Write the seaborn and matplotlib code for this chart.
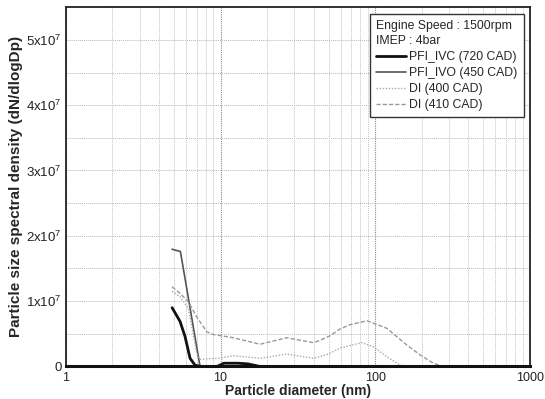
import numpy as np
import pandas as pd
import matplotlib
matplotlib.use("Agg")
import matplotlib.pyplot as plt
import seaborn as sns
from matplotlib.ticker import FixedLocator, FuncFormatter, NullFormatter

# ---- data ----
ivc_x = [4.86, 5.47, 5.89, 6.35, 6.84, 7.5, 9.5, 10.5, 13.0, 15.0, 18.0, 300]
ivc_y = [0.90e7, 0.69e7, 0.46e7, 0.125e7, 0.02e7, 0.0, 0.0, 0.05e7, 0.05e7, 0.04e7, 0.0, 0.0]

ivo_x = [4.86, 5.5, 7.37, 300]
ivo_y = [1.795e7, 1.76e7, 0.0, 0.0]

di400_x = [4.86, 5.47, 6.19, 7.01, 7.37, 8.5, 10.0, 12.1, 18.0, 26.8, 39.9, 49.9, 59.3, 82.0, 97.5, 119, 145, 160, 300]
di400_y = [1.15e7, 1.07e7, 0.89e7, 0.20e7, 0.11e7, 0.12e7, 0.13e7, 0.165e7, 0.125e7, 0.19e7, 0.125e7, 0.19e7,
           0.28e7, 0.365e7, 0.30e7, 0.15e7, 0.02e7, 0.0, 0.0]

di410_x = [4.86, 5.47, 6.19, 7.01, 8.15, 8.98, 12.1, 18.0, 26.8, 39.9, 44.0, 51.0, 59.3, 68.9, 88.4, 119, 160, 196, 238, 275, 300]
di410_y = [1.22e7, 1.12e7, 0.99e7, 0.76e7, 0.53e7, 0.49e7, 0.44e7, 0.34e7, 0.44e7, 0.365e7, 0.40e7, 0.47e7,
           0.575e7, 0.64e7, 0.70e7, 0.585e7, 0.33e7, 0.175e7, 0.05e7, 0.0, 0.0]

labels = ["PFI_IVC (720 CAD)", "PFI_IVO (450 CAD)", "DI (400 CAD)", "DI (410 CAD)"]
ytick_vals = [0, 1e7, 2e7, 3e7, 4e7, 5e7]
ytick_labels = ["0", "1x10$^7$", "2x10$^7$", "3x10$^7$", "4x10$^7$", "5x10$^7$"]
xtick_vals = [1, 10, 100, 1000]
xtick_labels = ["1", "10", "100", "1000"]

sns.set_theme(style="white")
plt.rcParams["font.family"] = ["Liberation Sans", "DejaVu Sans"]
plt.rcParams["mathtext.fontset"] = "custom"
plt.rcParams["mathtext.rm"] = "Liberation Sans"
plt.rcParams["mathtext.it"] = "Liberation Sans"

fig = plt.figure(figsize=(5.45, 3.99), dpi=100)
ax = fig.add_axes([0.121, 0.0815, 0.851, 0.9005])

styles = [
    dict(color="#111111", lw=2.0, ls="-"),
    dict(color="#555555", lw=1.2, ls="-"),
    dict(color="#aaaaaa", lw=1.0, ls=(0, (1, 1.2))),
    dict(color="#999999", lw=1.0, ls=(0, (3, 1.5))),
]
series = [(ivc_x, ivc_y), (ivo_x, ivo_y), (di400_x, di400_y), (di410_x, di410_y)]
for (xs, ys), lab, st in zip(series, labels, styles):
    sns.lineplot(x=xs, y=ys, ax=ax, label=lab, color=st["color"], linewidth=st["lw"],
                 linestyle=st["ls"], sort=False, estimator=None)

ax.set_xscale("log")
ax.set_xlim(1, 1000)
ax.set_ylim(0, 5.5e7)

ax.set_xticks(xtick_vals)
ax.set_xticklabels(xtick_labels)
minor_x = [m * d for d in [1, 10, 100] for m in range(2, 10)]
ax.xaxis.set_minor_locator(FixedLocator(minor_x))
ax.xaxis.set_minor_formatter(NullFormatter())

ax.set_yticks(ytick_vals)
ax.set_yticklabels(ytick_labels)
ax.yaxis.set_minor_locator(FixedLocator([0.5e7, 1.5e7, 2.5e7, 3.5e7, 4.5e7, 5.5e7]))

ax.tick_params(axis="both", which="both", direction="in", colors="#222222", labelcolor="#222222",
               labelsize=9.5)
ax.tick_params(axis="both", which="major", length=5, width=1.2)
ax.tick_params(axis="both", which="minor", length=3, width=1.0)
ax.tick_params(axis="x", which="major", pad=4, labelsize=9)
ax.tick_params(axis="y", which="major", pad=3)

ax.grid(True, axis="x", which="major", color="#8a8a8a", linestyle=(0, (1, 1)), linewidth=0.8)
ax.grid(True, axis="x", which="minor", color="#c4c4c4", linestyle=(0, (1, 1)), linewidth=0.7)
ax.grid(True, axis="y", which="both", color="#b8b8b8", linestyle=(0, (1, 1)), linewidth=0.7)

for side in ["left", "right", "top"]:
    ax.spines[side].set_color("#222222")
    ax.spines[side].set_linewidth(1.3)
ax.spines["bottom"].set_color("#111111")
ax.spines["bottom"].set_linewidth(2.2)

ax.set_xlabel("Particle diameter (nm)", fontsize=10, fontweight="bold", labelpad=0)
ax.set_ylabel("Particle size spectral density (dN/dlogDp)", fontsize=11, fontweight="bold", labelpad=2)

leg = ax.legend(loc="upper right", bbox_to_anchor=(0.987, 0.98),
                title="Engine Speed : 1500rpm\nIMEP : 4bar", alignment="left",
                fontsize=8.8, title_fontsize=8.8, frameon=True, fancybox=False,
                edgecolor="#333333", framealpha=1, handlelength=2.5, handletextpad=0.25,
                labelspacing=0.32, borderpad=0.5, borderaxespad=0)
leg.get_frame().set_linewidth(1.0)
leg.get_title().set_multialignment("left")
leg.get_title().set_linespacing(1.3)

fig.savefig("out.png", dpi=100)
